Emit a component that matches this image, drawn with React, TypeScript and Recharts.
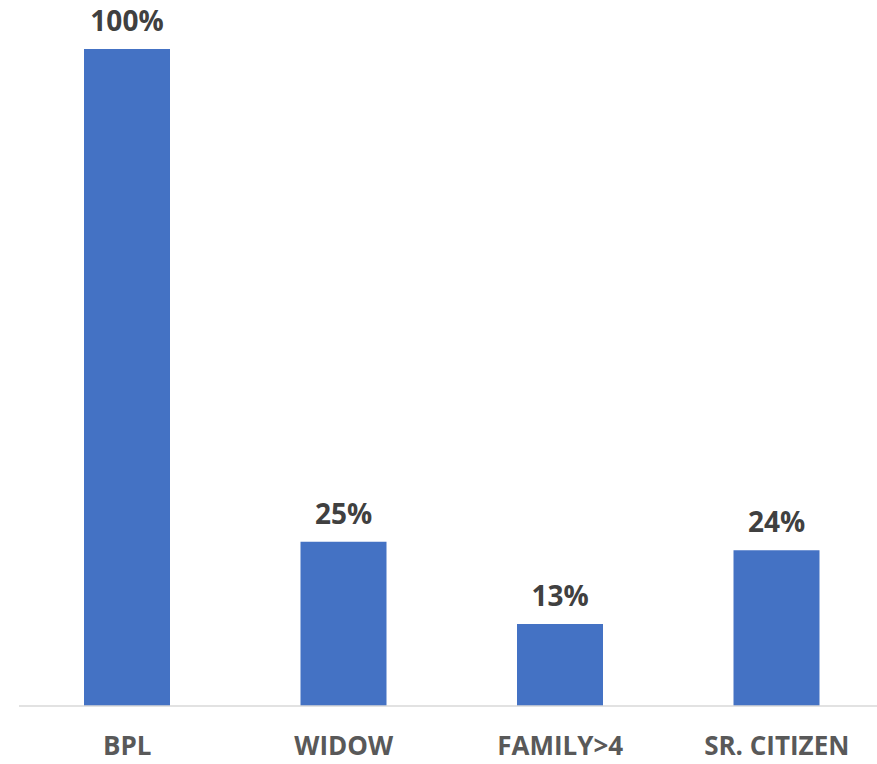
import React from "react";
import { BarChart, Bar, XAxis, YAxis, LabelList } from "recharts";

const categories = ["BPL", "WIDOW", "FAMILY>4", "SR. CITIZEN"];
const shares = [100, 25, 12.5, 23.7];

const chartData = categories.map((name, i) => ({ name, share: shares[i] }));

const font = "'Open Sans', 'Liberation Sans', sans-serif";

export default function App() {
  return (
    <div
      style={{
        position: "absolute",
        left: 0,
        top: 0,
        width: 877,
        height: 764,
        overflow: "hidden",
        background: "#fff",
      }}
    >
      <BarChart
        width={885}
        height={764}
        data={chartData}
        margin={{ top: 49, right: 0, left: 19, bottom: 0 }}
        barCategoryGap={0}
      >
        <YAxis hide domain={[0, 100]} />
        <XAxis
          dataKey="name"
          height={58}
          axisLine={{ stroke: "#d9d9d9", strokeWidth: 1.5 }}
          tickLine={false}
          tickSize={0}
          tickMargin={31}
          interval={0}
          tick={{
            fill: "#595959",
            fontSize: 26,
            fontWeight: 700,
            fontFamily: font,
          }}
        />
        <Bar
          dataKey="share"
          fill="#4472C4"
          barSize={86}
          isAnimationActive={false}
        >
          <LabelList
            dataKey="share"
            position="top"
            offset={18}
            formatter={(v: any) => `${Math.round(Number(v))}%`}
            style={{
              fill: "#404040",
              fontSize: 28,
              fontWeight: 700,
              fontFamily: font,
            }}
          />
        </Bar>
      </BarChart>
    </div>
  );
}
